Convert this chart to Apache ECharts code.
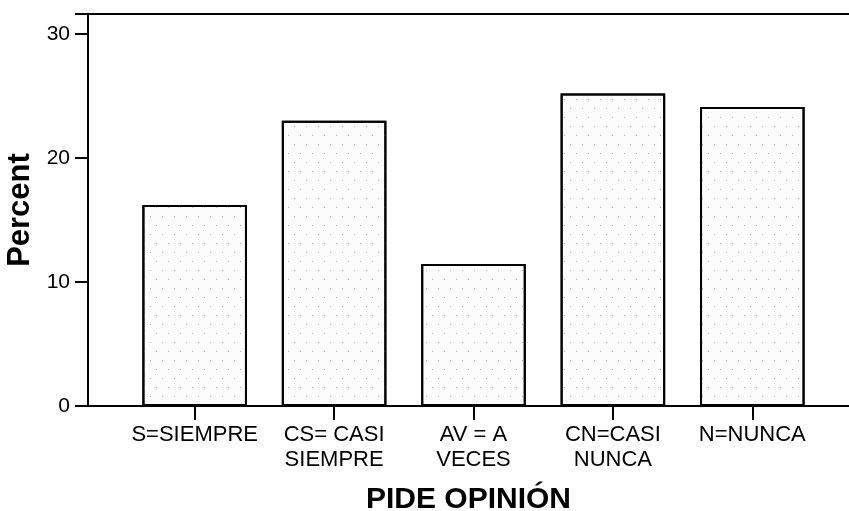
<!DOCTYPE html>
<html>
<head>
<meta charset="utf-8">
<script src="https://cdn.jsdelivr.net/npm/echarts@6/dist/echarts.min.js"></script>
<style>
  html, body { margin: 0; padding: 0; background: #fff; }
  #chart { width: 849px; height: 511px; }
</style>
</head>
<body>
<div id="chart"></div>
<script>
// categories and percents
const categories = ['S=SIEMPRE', 'CS= CASI\nSIEMPRE', 'AV = A\nVECES', 'CN=CASI\nNUNCA', 'N=NUNCA'];
const percents = [16.2, 23.0, 11.45, 25.2, 24.1];
const yTicks = [0, 10, 20, 30];

const fontFam = '"Liberation Sans", Arial, sans-serif';
const chart = echarts.init(document.getElementById('chart'));

const frameLine = { show: true, lineStyle: { color: '#000', width: 2 } };

chart.setOption({
    animation: false,
    backgroundColor: '#fff',
    grid: [
        // frame: left, top, bottom lines (no right side)
        { left: 88, right: 0, top: 14, bottom: 105, outerBoundsMode: 'none' },
        // bars sit inside a narrower band
        { left: 125, right: 27, top: 14, bottom: 105, outerBoundsMode: 'none' }
    ],
    xAxis: [
        {
            type: 'category', gridIndex: 0, data: [''], position: 'bottom',
            axisLine: frameLine, axisTick: { show: false }, axisLabel: { show: false },
            name: 'PIDE OPINIÓN',
            nameLocation: 'middle',
            nameGap: 79,
            nameTextStyle: { color: '#000', fontFamily: fontFam, fontSize: 30, fontWeight: 'bold' }
        },
        {
            type: 'category', gridIndex: 1, data: categories,
            axisLine: { show: false },
            axisTick: { show: true, interval: 0, alignWithLabel: true, length: 14, lineStyle: { color: '#000', width: 2 } },
            axisLabel: { interval: 0, color: '#000', fontFamily: fontFam, fontSize: 22, lineHeight: 25, margin: 16 }
        },
        {
            type: 'category', gridIndex: 0, data: [''], position: 'top',
            axisLine: frameLine, axisTick: { show: false }, axisLabel: { show: false }
        }
    ],
    yAxis: [
        {
            type: 'value', gridIndex: 0, min: 0, max: 31.6, interval: 10,
            axisLine: frameLine,
            axisTick: { show: true, length: 13, lineStyle: { color: '#000', width: 2 } },
            axisLabel: {
                color: '#000', fontFamily: fontFam, fontSize: 21, margin: 18,
                formatter: v => (yTicks.includes(v) ? String(v) : '')
            },
            splitLine: { show: false },
            name: 'Percent',
            nameLocation: 'middle',
            nameGap: 51,
            nameTextStyle: { color: '#000', fontFamily: fontFam, fontSize: 31, fontWeight: 'bold' }
        },
        {
            type: 'value', gridIndex: 1, min: 0, max: 31.6,
            axisLine: { show: false }, axisTick: { show: false }, axisLabel: { show: false },
            splitLine: { show: false }
        }
    ],
    series: [
        {
            type: 'bar',
            xAxisIndex: 1,
            yAxisIndex: 1,
            data: percents,
            barWidth: '75%',
            itemStyle: {
                color: '#fcfcfc',
                borderColor: '#000',
                borderWidth: 2,
                decal: {
                    symbol: 'rect',
                    symbolSize: 1,
                    color: '#b0b0b0',
                    dashArrayX: [[1, 11], [0, 6, 1, 5]],
                    dashArrayY: [1, 8],
                    rotation: 0
                }
            }
        }
    ]
});
</script>
</body>
</html>
